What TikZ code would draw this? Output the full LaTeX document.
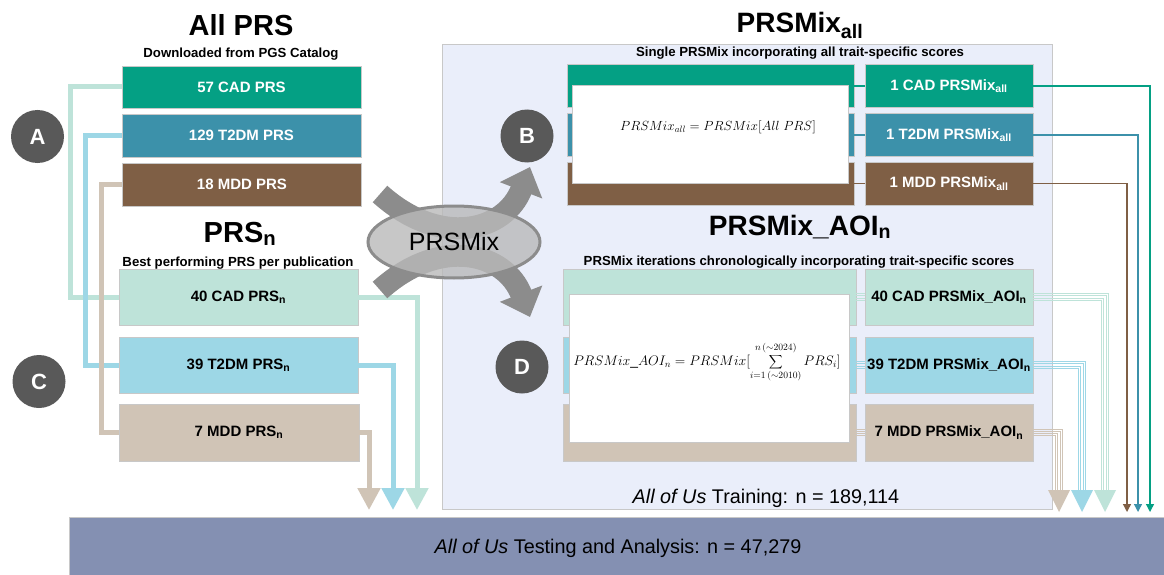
\documentclass[tikz,border=0pt]{standalone}
\usepackage{fontspec}
\setmainfont{Liberation Sans}
\usetikzlibrary{arrows.meta,shapes.geometric}
\definecolor{cadD}{RGB}{4,160,132}
\definecolor{t2dD}{RGB}{60,145,170}
\definecolor{mddD}{RGB}{127,95,69}
\definecolor{cadL}{RGB}{190,227,217}
\definecolor{t2dL}{RGB}{157,215,230}
\definecolor{mddL}{RGB}{208,196,182}
\definecolor{lav}{RGB}{234,238,250}
\definecolor{barc}{RGB}{132,144,178}
\definecolor{circc}{RGB}{89,89,89}
\definecolor{arrg}{RGB}{140,140,140}
\definecolor{ellf}{RGB}{185,185,185}
\definecolor{edgeg}{RGB}{200,200,200}
\newcommand{\sbs}[1]{\textsubscript{#1}}
\newcommand{\fs}[1]{\fontsize{#1}{#1}\selectfont}
\tikzset{
  box/.style={draw=edgeg, line width=0.8pt, inner sep=0pt, align=center},
  darkbox/.style={box, text=white, font=\fs{15}\bfseries},
  lightbox/.style={box, text=black, font=\fs{15}\bfseries},
  letter/.style={circle, fill=circc, text=white, minimum size=53pt, inner sep=0pt, font=\fs{22}\bfseries},
  heading/.style={anchor=base, font=\fs{29}\bfseries, inner sep=0pt},
  subhead/.style={anchor=base, font=\fs{13.2}\bfseries, inner sep=0pt},
  fatlink/.style={line width=5pt},
  thinlink/.style={line width=1.3pt, -{Triangle[width=8pt,length=8pt]}},
  bundle/.style={line width=0.9pt},
  bigarrow/.style={line width=22pt, draw=arrg, -{Triangle[width=44pt,length=25pt]}},
}
\begin{document}
\begin{tikzpicture}[x=1pt,y=-1pt]
\useasboundingbox (0,0) rectangle (1164,575);
\fill[white] (0,0) rectangle (1164,575);

% ---------- training box ----------
\node[draw=edgeg, fill=lav, line width=0.8pt, minimum width=610pt, minimum height=465pt, inner sep=0pt] (train) at (747,276.5) {};
\node[anchor=base, font=\fs{19.8}, inner sep=0pt] (traintxt) at (766,503) {\textit{All of Us} Training: n = 189,114};

% ---------- bottom bar ----------
\node[draw=edgeg, fill=barc, line width=0.8pt, minimum width=1100pt, minimum height=60pt, inner sep=0pt, anchor=north west] (bar) at (69,517) {};
\node[font=\fs{19.8}, inner sep=0pt] (bartxt) at (618,548) {\textit{All of Us} Testing and Analysis: n = 47,279};

% ---------- headings ----------
\node[heading] (hall) at (241,36) {All PRS};
\node[subhead] (shall) at (241,58) {Downloaded from PGS Catalog};
\node[heading] (hn) at (240,242) {PRS\sbs{n}};
\node[subhead] (shn) at (238,266) {Best performing PRS per publication};
\node[heading, font=\fs{28}\bfseries] (hmix) at (800,33) {PRSMix\sbs{all}};
\node[subhead] (shmix) at (800,57) {Single PRSMix incorporating all trait-specific scores};
\node[heading, font=\fs{28}\bfseries] (haoi) at (800,235) {PRSMix\_AOI\sbs{n}};
\node[subhead] (shaoi) at (799,265) {PRSMix iterations chronologically incorporating trait-specific scores};

% ---------- All PRS boxes ----------
\node[darkbox, fill=cadD, minimum width=239pt, minimum height=42pt] (cadAll) at (241.5,87) {57 CAD PRS};
\node[darkbox, fill=t2dD, minimum width=239pt, minimum height=43pt] (t2dAll) at (241.5,135.5) {129 T2DM PRS};
\node[darkbox, fill=mddD, minimum width=239pt, minimum height=43pt] (mddAll) at (242,184.5) {18 MDD PRS};

% ---------- PRS_n boxes ----------
\node[lightbox, fill=cadL, minimum width=239pt, minimum height=56pt] (cadN) at (238.5,297) {40 CAD PRS\sbs{n}};
\node[lightbox, fill=t2dL, minimum width=239pt, minimum height=56pt] (t2dN) at (238.5,365) {39 T2DM PRS\sbs{n}};
\node[lightbox, fill=mddL, minimum width=240pt, minimum height=57pt] (mddN) at (239,432.5) {7 MDD PRS\sbs{n}};

% ---------- left connectors ----------
\draw[fatlink, cadL] (cadAll.west) -- ++(-51,0) |- (cadN.west);
\draw[fatlink, t2dL] (t2dAll.west) -- ++(-36,0) |- (t2dN.west);
\draw[fatlink, mddL] (mddAll.west) -- ++(-21,0) |- (mddN.west);

% ---------- right connectors of PRS_n ----------
\coordinate (cadNend) at (417,510);
\coordinate (t2dNend) at (393,510);
\coordinate (mddNend) at (369,510);
\draw[fatlink, cadL, -{Triangle[width=22pt,length=22pt]}] (cadN.east) -| (cadNend);
\draw[fatlink, t2dL, -{Triangle[width=22pt,length=22pt]}] (t2dN.east) -| (t2dNend);
\draw[fatlink, mddL, -{Triangle[width=22pt,length=22pt]}] (mddN.east) -| (mddNend);

% ---------- PRSMix_all ----------
\node[box, fill=cadD, minimum width=287pt, minimum height=43pt] (sCad) at (710.5,86) {};
\node[box, fill=t2dD, minimum width=287pt, minimum height=43pt] (sT2d) at (710.5,135) {};
\node[box, fill=mddD, minimum width=287pt, minimum height=43pt] (sMdd) at (710.5,183.5) {};
\node[box, fill=white, minimum width=276pt, minimum height=98pt] (fAll) at (710,134) {};
\node[inner sep=0pt, font=\fs{14.4}] (fAllTxt) at (718,127) {\scalebox{0.92}{$PRSMix_{all} = PRSMix[All\ PRS]$}};
\node[darkbox, fill=cadD, minimum width=168pt, minimum height=43pt] (rCad) at (949,86) {1 CAD PRSMix\sbs{all}};
\node[darkbox, fill=t2dD, minimum width=168pt, minimum height=43pt] (rT2d) at (949,135) {1 T2DM PRSMix\sbs{all}};
\node[darkbox, fill=mddD, minimum width=168pt, minimum height=43pt] (rMdd) at (949,183.5) {1 MDD PRSMix\sbs{all}};
\draw[line width=1.3pt, cadD] (sCad.east) -- (rCad.west);
\draw[line width=1.3pt, t2dD] (sT2d.east) -- (rT2d.west);
\draw[line width=1.3pt, mddD] (sMdd.east) -- (rMdd.west);
\coordinate (cadAllEnd) at (1150,512);
\coordinate (t2dAllEnd) at (1138,512);
\coordinate (mddAllEnd) at (1127,512);
\draw[thinlink, cadD] (rCad.east) -| (cadAllEnd);
\draw[thinlink, t2dD] (rT2d.east) -| (t2dAllEnd);
\draw[thinlink, mddD] (rMdd.east) -| (mddAllEnd);

% ---------- PRSMix_AOI ----------
\node[box, fill=cadL, minimum width=293pt, minimum height=56pt] (sCadA) at (709.5,297) {};
\node[box, fill=t2dL, minimum width=293pt, minimum height=56pt] (sT2dA) at (709.5,365) {};
\node[box, fill=mddL, minimum width=293pt, minimum height=57pt] (sMddA) at (709.5,432.5) {};
\node[box, fill=white, minimum width=280pt, minimum height=148pt] (fAoi) at (709,368) {};
\node[inner sep=0pt, font=\fs{14.4}] (fAoiTxt) at (707,362)
  {\scalebox{0.96}{$PRSMix\_AOI_n = PRSMix[\displaystyle\sum_{i=1\,(\sim 2010)}^{n\,(\sim 2024)} PRS_i]$}};
\node[lightbox, fill=cadL, minimum width=168pt, minimum height=56pt] (rCadA) at (949,297) {40 CAD PRSMix\_AOI\sbs{n}};
\node[lightbox, fill=t2dL, minimum width=168pt, minimum height=56pt] (rT2dA) at (949,365) {39 T2DM PRSMix\_AOI\sbs{n}};
\node[lightbox, fill=mddL, minimum width=168pt, minimum height=57pt] (rMddA) at (949,432.5) {7 MDD PRSMix\_AOI\sbs{n}};

\coordinate (cadAoiEnd) at (1105,490);
\coordinate (t2dAoiEnd) at (1082,490);
\coordinate (mddAoiEnd) at (1059,490);
\foreach \o in {-3.3,-1.1,1.1,3.3}{
  \draw[bundle, cadL] ([yshift=\o pt]sCadA.east) -- ([yshift=\o pt]rCadA.west);
  \draw[bundle, t2dL] ([yshift=\o pt]sT2dA.east) -- ([yshift=\o pt]rT2dA.west);
  \draw[bundle, mddL] ([yshift=\o pt]sMddA.east) -- ([yshift=\o pt]rMddA.west);
  \draw[bundle, cadL] ([yshift=\o pt]rCadA.east) -| ([xshift=\o pt]cadAoiEnd);
  \draw[bundle, t2dL] ([yshift=\o pt]rT2dA.east) -| ([xshift=\o pt]t2dAoiEnd);
  \draw[bundle, mddL] ([yshift=\o pt]rMddA.east) -| ([xshift=\o pt]mddAoiEnd);
}
\fill[cadL] ([xshift=-11pt]cadAoiEnd) -- ([xshift=11pt]cadAoiEnd) -- ([yshift=-22pt]cadAoiEnd) -- cycle;
\fill[t2dL] ([xshift=-11pt]t2dAoiEnd) -- ([xshift=11pt]t2dAoiEnd) -- ([yshift=-22pt]t2dAoiEnd) -- cycle;
\fill[mddL] ([xshift=-11pt]mddAoiEnd) -- ([xshift=11pt]mddAoiEnd) -- ([yshift=-22pt]mddAoiEnd) -- cycle;

% ---------- PRSMix hub ----------
\coordinate (ulStart) at (380,194);
\coordinate (llStart) at (380,290);
\coordinate (bTip) at (530,167);
\coordinate (dTip) at (530,317);
\draw[bigarrow] (ulStart) .. controls (440,248) and (505,232) .. (bTip);
\draw[bigarrow] (llStart) .. controls (440,236) and (505,252) .. (dTip);
\node[ellipse, draw=arrg, line width=3pt, fill=ellf, fill opacity=0.8, text opacity=1,
      minimum width=172pt, minimum height=72pt, inner sep=0pt, font=\fs{25}] (hub) at (454,242) {PRSMix};

% ---------- letters ----------
\node[letter] (A) at (37.5,136.5) {A};
\node[letter] (C) at (39,381.5) {C};
\node[letter] (B) at (527,136) {B};
\node[letter] (D) at (522,367) {D};
\end{tikzpicture}
\end{document}
